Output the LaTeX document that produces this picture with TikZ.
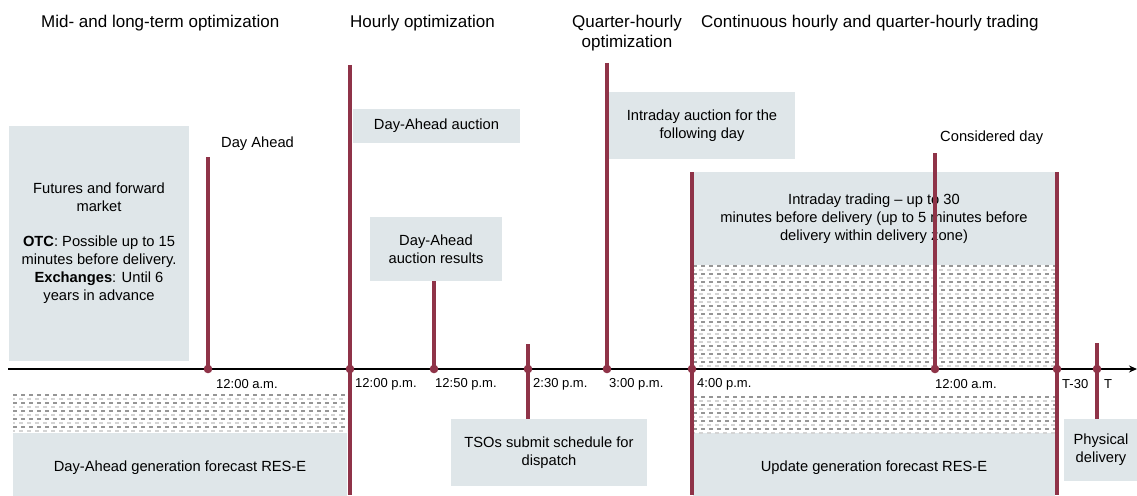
\documentclass[tikz,border=0pt]{standalone}
\usepackage{fontspec}
\setmainfont{Liberation Sans}
\usetikzlibrary{arrows.meta}
\definecolor{maroon}{RGB}{143,51,72}
\definecolor{boxfill}{RGB}{223,230,233}
\definecolor{hatchdark}{RGB}{150,150,150}
\definecolor{hatchlight}{RGB}{212,212,212}
\newcommand{\hatcharea}[5]{%
  \begin{scope}
    \clip (#1,#2) rectangle (#3,#4);
    \foreach \k in {0,...,#5}{
      \draw[hatchdark, line width=2pt, dash pattern=on 4pt off 4pt] (#1,{#2+1+8*\k}) -- (#3,{#2+1+8*\k});
      \draw[hatchlight, line width=1.4pt, dash pattern=on 4pt off 4pt, dash phase=2pt] (#1,{#2+5+8*\k}) -- (#3,{#2+5+8*\k});
    }
  \end{scope}}
\begin{document}
\begin{tikzpicture}[x=1pt,y=-1pt,
  box/.style={fill=boxfill, draw=none, inner sep=0pt, align=center, font=\fontsize{14.7}{18}\selectfont},
  head/.style={inner sep=0pt, align=center, font=\fontsize{17}{20}\selectfont},
  lbl/.style={inner sep=0pt, anchor=west, font=\fontsize{14.7}{18}\selectfont},
  tlbl/.style={inner sep=0pt, anchor=west, font=\fontsize{13}{15}\selectfont},
  mline/.style={draw=maroon, line width=4.5pt},
  axis/.style={draw=black, line width=2pt, -{Stealth[length=8pt,width=7pt]}}
]
\useasboundingbox (0,0) rectangle (1137,495);

% headings
\node[head, anchor=west] (h1) at (41,23) {Mid- and long-term optimization};
\node[head, anchor=west] (h2) at (350,23) {Hourly optimization};
\node[head] (h3) at (627,33) {Quarter-hourly\\optimization};
\node[head, anchor=west] (h4) at (701,23) {Continuous hourly and quarter-hourly trading};

% boxes
\node[box, minimum width=180pt, minimum height=235pt] (fut) at (99,243.5)
  {Futures and forward\\market\\[17pt]\textbf{OTC}: Possible up to 15\\minutes before delivery.\\\textbf{Exchanges}: Until 6\\years in advance};
\node[box, minimum width=167pt, minimum height=34pt] (daa) at (436.5,126) {Day-Ahead auction};
\node[box, minimum width=132pt, minimum height=64pt] (dar) at (436,249) {Day-Ahead\\auction results};
\node[box, minimum width=186pt, minimum height=67pt] (ida) at (702,125.5) {Intraday auction for the\\following day};
\node[box, minimum width=362pt, minimum height=93pt] (idt) at (874,218.5)
  {Intraday trading -- up to 30\\minutes before delivery (up to 5 minutes before\\delivery within delivery zone)};
\node[box, minimum width=196pt, minimum height=67pt] (tso) at (549,452.5) {TSOs submit schedule for\\dispatch};
\node[box, minimum width=74pt, minimum height=62pt] (phy) at (1101,450) {Physical\\delivery};
\node[box, minimum width=334pt, minimum height=70pt] (dgf) at (180,468) {Day-Ahead generation forecast RES-E};
\node[box, minimum width=362pt, minimum height=70pt] (ugf) at (874,468) {Update generation forecast RES-E};

% hatched areas
\hatcharea{13}{394}{347}{433}{4}
\hatcharea{693}{265}{1055}{366}{12}
\hatcharea{693}{396}{1055}{433}{4}

% labels
\node[lbl] (lda) at (221,144) {Day Ahead};
\node[lbl] (lcd) at (940,138) {Considered day};

% axis points
\coordinate (p1) at (208,369);
\coordinate (p2) at (350,369);
\coordinate (p3) at (434,369);
\coordinate (p4) at (528,369);
\coordinate (p5) at (607,369);
\coordinate (p6) at (692,369);
\coordinate (p7) at (935,369);
\coordinate (p8) at (1057,369);
\coordinate (p9) at (1097,369);
\coordinate (ax0) at (8,369);
\coordinate (ax1) at (1137,369);

% vertical markers
\draw[mline] (208,157) -- (p1);
\draw[mline] (350,65) -- (350,495);
\draw[mline] (dar.south -| p3) -- (p3);
\draw[mline] (528,344) -- (tso.north -| p4);
\draw[mline] (607,63) -- (p5);
\draw[mline] (692,172) -- (692,495);
\draw[mline] (935,153) -- (p7);
\draw[mline] (1057,172) -- (1057,495);
\draw[mline] (1097,343) -- (phy.north -| p9);

% axis
\draw[axis] (ax0) -- (ax1);
\foreach \p in {p1,p2,p3,p4,p5,p6,p7,p8,p9}{\fill[maroon] (\p) circle (4.3pt);}

% time labels
\node[tlbl] (t1) at (216,384) {12:00 a.m.};
\node[tlbl] (t2) at (355,384) {12:00 p.m.};
\node[tlbl] (t3) at (435,384) {12:50 p.m.};
\node[tlbl] (t4) at (533,384) {2:30 p.m.};
\node[tlbl] (t5) at (609,384) {3:00 p.m.};
\node[tlbl] (t6) at (697,384) {4:00 p.m.};
\node[tlbl] (t7) at (935,384) {12:00 a.m.};
\node[tlbl] (t8) at (1062,384) {T-30};
\node[tlbl] (t9) at (1104,384) {T};
\end{tikzpicture}
\end{document}
